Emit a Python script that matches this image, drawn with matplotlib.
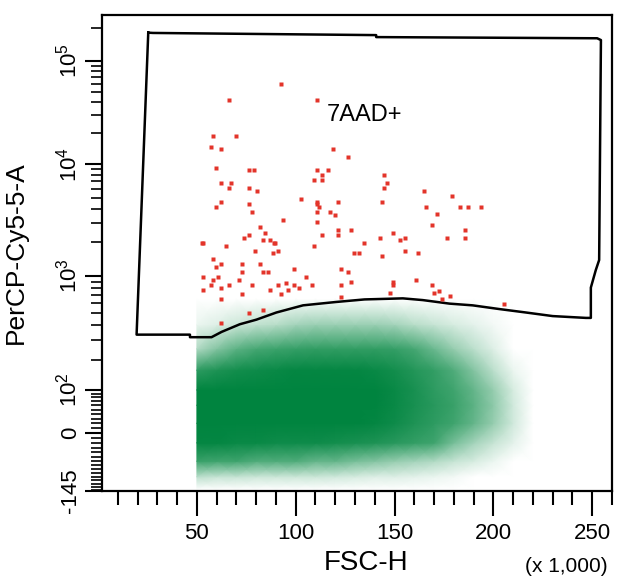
import numpy as np
import matplotlib
import matplotlib.pyplot as plt
from matplotlib.colors import LinearSegmentedColormap, PowerNorm

matplotlib.use('Agg')

plt.rcParams['font.family'] = ['Liberation Sans', 'DejaVu Sans']
plt.rcParams['mathtext.fontset'] = 'custom'
plt.rcParams['mathtext.rm'] = 'Liberation Sans'
plt.rcParams['mathtext.it'] = 'Liberation Sans'

# 7AAD+ events (FSC-H in thousands, PerCP-Cy5-5-A as log10)
red_fsc = [92.3, 66.2, 110.7, 58.2, 70.0, 56.9, 62.3, 118.8, 126.6, 59.6,
           76.4, 79.1, 110.9, 116.2, 113.5, 109.4, 113.5, 62.3, 67.3, 66.2,
           76.4, 144.9, 146.1, 144.9, 80.6, 62.3, 59.6, 76.4, 77.8, 102.9,
           110.6, 110.6, 112.0, 121.2, 110.6, 117.2, 119.8, 93.6, 110.6, 81.8,
           84.5, 76.6, 73.9, 113.3, 121.2, 121.2, 52.4, 53.2, 64.8, 83.2,
           87.2, 88.9, 89.7, 109.4, 79.3, 90.9, 88.4, 58.2, 62.3, 59.6,
           72.7, 81.8, 83.2, 85.9, 72.7, 99.0, 122.7, 126.6, 53.0, 60.9,
           58.2, 71.4, 105.4, 56.9, 66.2, 77.9, 90.9, 94.9, 99.0, 108.1,
           122.7, 53.0, 62.3, 87.2, 96.3, 101.5, 92.4, 72.6, 122.7, 62.3,
           76.6, 83.2, 62.3, 164.8, 143.6, 179.3, 166.1, 183.2, 187.0, 193.8,
           171.4, 168.7, 127.9, 149.0, 185.7, 185.7, 142.4, 155.5, 152.9, 176.6,
           134.5, 155.5, 129.3, 131.8, 162.0, 143.6, 127.9, 149.0, 149.0, 160.7,
           168.7, 172.7, 170.0, 147.6, 177.9, 173.9, 205.5]
red_log_percp = [4.774, 4.621, 4.621, 4.269, 4.269, 4.165, 4.143, 4.143, 4.065, 3.967,
                 3.946, 3.946, 3.946, 3.946, 3.899, 3.854, 3.854, 3.830, 3.830, 3.783,
                 3.783, 3.899, 3.830, 3.783, 3.759, 3.663, 3.619, 3.640, 3.571, 3.688,
                 3.663, 3.640, 3.619, 3.663, 3.571, 3.571, 3.547, 3.503, 3.479, 3.435,
                 3.387, 3.363, 3.339, 3.363, 3.411, 3.363, 3.295, 3.295, 3.271, 3.319,
                 3.319, 3.295, 3.295, 3.271, 3.223, 3.223, 3.203, 3.154, 3.107, 3.083,
                 3.107, 3.107, 3.038, 3.038, 3.038, 3.063, 3.063, 3.038, 2.991, 2.991,
                 2.968, 2.968, 2.991, 2.924, 2.924, 2.924, 2.924, 2.947, 2.924, 2.924,
                 2.924, 2.883, 2.901, 2.883, 2.883, 2.901, 2.854, 2.854, 2.833, 2.810,
                 2.699, 2.722, 2.614, 3.759, 3.663, 3.712, 3.619, 3.619, 3.619, 3.619,
                 3.551, 3.458, 3.411, 3.387, 3.411, 3.342, 3.342, 3.342, 3.319, 3.342,
                 3.295, 3.226, 3.203, 3.203, 3.203, 3.179, 2.950, 2.950, 2.927, 2.971,
                 2.927, 2.880, 2.860, 2.860, 2.836, 2.813, 2.769]

# 7AAD- population, density (0 = empty, 1 = solid)
dens_fsc = [50, 60, 70, 80, 90, 100, 110, 120, 130, 140, 150, 160, 170, 180, 190, 200, 210, 220]
dens_percp = [-140, -100, -60, -20, 20, 60, 100, 160, 250, 400, 650]
density = [
    [0, 0, 0, 0, 0, 0, 0, 0, 0, 0, 0, 0, 0, 0, 0, 0, 0, 0],
    [0.10, 0.08, 0.08, 0.07, 0.07, 0.07, 0.07, 0.06, 0.05, 0.04, 0.04, 0.03, 0.02, 0.01, 0, 0, 0, 0],
    [0.45, 0.40, 0.40, 0.35, 0.35, 0.35, 0.30, 0.30, 0.25, 0.22, 0.18, 0.15, 0.12, 0.08, 0.05, 0.02, 0, 0],
    [0.95, 0.95, 0.90, 0.90, 0.85, 0.85, 0.85, 0.80, 0.75, 0.70, 0.60, 0.50, 0.40, 0.25, 0.15, 0.08, 0.03, 0],
    [1, 1, 1, 1, 1, 1, 1, 1, 1, 0.95, 0.85, 0.70, 0.55, 0.40, 0.30, 0.18, 0.06, 0],
    [1, 1, 1, 1, 1, 1, 1, 1, 1, 1, 0.90, 0.75, 0.60, 0.45, 0.32, 0.20, 0.06, 0],
    [1, 1, 1, 1, 1, 1, 1, 1, 1, 1, 0.90, 0.75, 0.55, 0.40, 0.30, 0.18, 0.05, 0],
    [0.55, 0.70, 0.80, 0.85, 0.90, 0.95, 0.95, 0.95, 0.95, 0.90, 0.80, 0.65, 0.50, 0.35, 0.22, 0.10, 0.02, 0],
    [0.12, 0.22, 0.32, 0.38, 0.42, 0.48, 0.52, 0.52, 0.52, 0.52, 0.48, 0.38, 0.28, 0.18, 0.10, 0.04, 0, 0],
    [0.02, 0.04, 0.07, 0.09, 0.11, 0.15, 0.17, 0.17, 0.17, 0.17, 0.15, 0.11, 0.08, 0.05, 0.03, 0.01, 0, 0],
    [0, 0, 0, 0, 0, 0, 0, 0, 0, 0, 0, 0, 0, 0, 0, 0, 0, 0],
]

# 7AAD+ gate outline
gate_fsc = [25.4, 27.8, 140.7, 140.7, 252.5, 254.4, 253.5, 251.8, 249.3, 249.3,
            246.8, 230.0, 216.5, 203.0, 189.5, 177.8, 164.3, 154.2, 134.8, 120.5,
            103.7, 90.2, 80.1, 71.7, 62.5, 57.4, 46.5, 46.5, 19.5, 25.4]
gate_percp = [181000, 180000, 172000, 165000, 161000, 155000, 1390, 1130, 805, 455,
              455, 471, 504, 538, 577, 596, 637, 658, 645, 615,
              577, 504, 440, 403, 348, 314, 314, 330, 330, 181000]

ytick_vals = [-145, 0, 100, 1000, 10000, 100000]
ytick_labels = ['-145', '0', '$10^2$', '$10^3$', '$10^4$', '$10^5$']
xtick_vals = [50, 100, 150, 200, 250]

# biexponential-like display scale (anchors: value -> relative height)
anchor_vals = np.array([-145, 0, 100, 1000, 1e4, 1e5, 262144])
anchor_pos = np.array([0, 58, 101, 215, 327, 430, 476], dtype=float)
anchor_a = np.arcsinh(anchor_vals / 100)


def fwd(y):
    return np.interp(np.arcsinh(np.asarray(y, dtype=float) / 100), anchor_a, anchor_pos)


def inv(p):
    return 100 * np.sinh(np.interp(np.asarray(p, dtype=float), anchor_pos, anchor_a))


fig = plt.figure(figsize=(6.2, 5.84), dpi=100)
ax = fig.add_axes([102 / 620, 93 / 584, 510 / 620, 476 / 584])
ax.set_yscale('function', functions=(fwd, inv))
ax.set_xlim(2, 260)
ax.set_ylim(-145, 262144)

green = '#00843f'
cmap = LinearSegmentedColormap.from_list('wg', ['#ffffff', '#3fa46e', green])
X, Y = np.meshgrid(dens_fsc, dens_percp)
ax.pcolormesh(X, Y, np.array(density), cmap=cmap, norm=PowerNorm(0.75, vmin=0, vmax=1),
              shading='gouraud', zorder=1)

ax.plot(gate_fsc, gate_percp, color='black', lw=1.8, zorder=3)
ax.plot(red_fsc, 10 ** np.array(red_log_percp), 's', ms=2.6, color='#e3342a',
        mec='none', zorder=4)
ax.text(134.8, 30000, '7AAD+', fontsize=17, ha='center', va='center', zorder=5)

# axes decoration
for sp in ax.spines.values():
    sp.set_linewidth(1.6)

ax.set_xticks(xtick_vals)
ax.set_xticks([v for v in range(10, 261, 10) if v % 50], minor=True)
ax.tick_params(axis='x', which='major', length=18, width=1.5, labelsize=16, pad=5)
ax.tick_params(axis='x', which='minor', length=10, width=1.5)

ax.set_yticks(ytick_vals)
ax.set_yticklabels(ytick_labels)
minor_y = [v for v in range(-140, 100, 10) if v != 0]
for dec in [100, 1000, 10000]:
    minor_y += [dec * k for k in range(2, 10)]
minor_y += [200000]
ax.set_yticks(minor_y, minor=True)
ax.tick_params(axis='y', which='major', length=12, width=1.5, labelsize=16, pad=3)
ax.tick_params(axis='y', which='minor', length=8, width=1.2)
for lab in ax.get_yticklabels():
    lab.set_rotation(90)
    lab.set_va('center')

ax.set_xlabel('FSC-H', fontsize=20)
ax.xaxis.set_label_coords(0.518, -0.125)
ax.set_ylabel('PerCP-Cy5-5-A', fontsize=19)
ax.yaxis.set_label_coords(-0.145, 0.5)
fig.text(566 / 620, 1 - 566 / 584, '(x 1,000)', fontsize=15, ha='center', va='center')

fig.savefig('out.png', dpi=100)
